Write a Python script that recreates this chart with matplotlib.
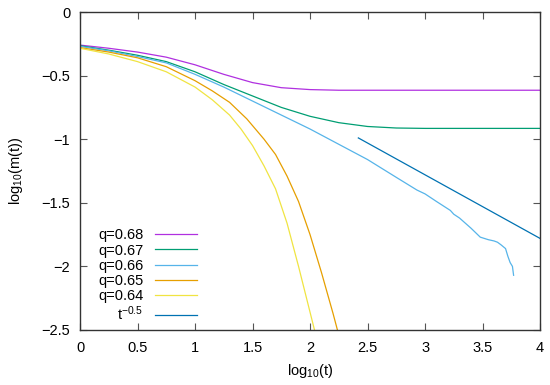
import matplotlib
matplotlib.use("Agg")
import matplotlib.pyplot as plt

plt.rcParams['font.family'] = ['Liberation Sans', 'DejaVu Sans']
plt.rcParams['mathtext.fontset'] = 'custom'
plt.rcParams['mathtext.rm'] = 'Liberation Sans'
plt.rcParams['mathtext.it'] = 'Liberation Sans'

# q=0.68
x68 = [0, 0.25, 0.5, 0.75, 1.0, 1.25, 1.5, 1.75, 2.0, 2.25, 2.5, 3.0, 3.5, 4.0]
y68 = [-0.26, -0.285, -0.315, -0.355, -0.415, -0.49, -0.555, -0.595, -0.61,
       -0.615, -0.615, -0.615, -0.615, -0.615]
# q=0.67
x67 = [0, 0.25, 0.5, 0.75, 1.0, 1.25, 1.5, 1.75, 2.0, 2.25, 2.5, 2.75, 3.0, 3.5, 4.0]
y67 = [-0.265, -0.30, -0.34, -0.39, -0.47, -0.57, -0.66, -0.75, -0.82, -0.87,
       -0.90, -0.912, -0.915, -0.915, -0.915]
# q=0.66
x66 = [0, 0.25, 0.5, 0.75, 1.0, 1.25, 1.5, 1.75, 2.0, 2.25, 2.5, 2.75, 2.93,
       3.0, 3.1, 3.22, 3.25, 3.3, 3.4, 3.48, 3.55, 3.6, 3.63, 3.66, 3.7, 3.72,
       3.74, 3.76, 3.77]
y66 = [-0.27, -0.305, -0.35, -0.40, -0.49, -0.59, -0.70, -0.81, -0.92, -1.04,
       -1.16, -1.30, -1.40, -1.43, -1.49, -1.56, -1.59, -1.62, -1.70, -1.77,
       -1.79, -1.80, -1.81, -1.83, -1.86, -1.92, -1.97, -2.00, -2.07]
# q=0.65
x65 = [0, 0.25, 0.5, 0.75, 1.0, 1.15, 1.3, 1.45, 1.6, 1.7, 1.8, 1.9, 2.0,
       2.1, 2.2, 2.25]
y65 = [-0.28, -0.315, -0.36, -0.43, -0.54, -0.62, -0.71, -0.84, -1.00, -1.12,
       -1.29, -1.49, -1.75, -2.05, -2.37, -2.54]
# q=0.64
x64 = [0, 0.25, 0.5, 0.75, 1.0, 1.15, 1.3, 1.4, 1.5, 1.6, 1.7, 1.8, 1.9, 2.0, 2.05]
y64 = [-0.285, -0.33, -0.39, -0.47, -0.59, -0.69, -0.81, -0.92, -1.05, -1.21,
       -1.39, -1.66, -2.00, -2.36, -2.54]
# t^-0.5 reference line
xref = [2.42, 4.0]
yref = [-0.99, -1.78]

labels = ['q=0.68', 'q=0.67', 'q=0.66', 'q=0.65', 'q=0.64', r'$\mathregular{t^{-0.5}}$']
colors = ['#b030e0', '#009e73', '#56b4e9', '#e69f00', '#f0e442', '#0072b2']

xticks = [0, 0.5, 1, 1.5, 2, 2.5, 3, 3.5, 4]
xticklabels = ['0', '0.5', '1', '1.5', '2', '2.5', '3', '3.5', '4']
yticks = [0, -0.5, -1, -1.5, -2, -2.5]
yticklabels = ['0', '\u22120.5', '\u22121', '\u22121.5', '\u22122', '\u22122.5']

fs = 10.5

fig = plt.figure(figsize=(5.5, 3.85), dpi=100)
ax = fig.add_axes([0.1455, 0.1429, 0.8364, 0.8259])

series = [(x68, y68), (x67, y67), (x66, y66), (x65, y65), (x64, y64), (xref, yref)]
for (xs, ys), lab, c in zip(series, labels, colors):
    ax.plot(xs, ys, color=c, lw=0.9, label=lab)

ax.set_xlim(0, 4)
ax.set_ylim(-2.5, 0)
ax.set_xticks(xticks)
ax.set_xticklabels(xticklabels)
ax.set_yticks(yticks)
ax.set_yticklabels(yticklabels)
ax.tick_params(direction='in', length=5, width=0.8, top=True, right=True,
               labelsize=fs, color='#555555')
ax.tick_params(axis='x', pad=8)
ax.tick_params(axis='y', pad=7)
for sp in ax.spines.values():
    sp.set_linewidth(1.0)
    sp.set_color('#333333')

ax.set_xlabel(r'log$_{10}$(t)', fontsize=fs, labelpad=5)
ax.set_ylabel(r'log$_{10}$(m(t))', fontsize=fs, labelpad=12)

leg = ax.legend(loc='lower left', bbox_to_anchor=(0.02, -0.005), markerfirst=False,
                frameon=False, fontsize=fs, handlelength=2.9, handletextpad=0.8,
                labelspacing=0.08, borderaxespad=0.2)

fig.savefig('out.png', dpi=100)
